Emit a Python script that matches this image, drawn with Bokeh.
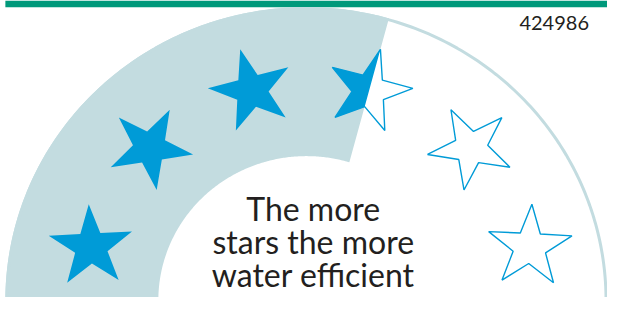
import numpy as np
from bokeh.plotting import figure
from bokeh.models import Range1d
from bokeh.embed import file_html
from bokeh.resources import INLINE
from bokeh.core.properties import value

# ---- data ----
star_count = 6
rating = 3.5
label_code = ["424986"]
slogan_lines = ["The more", "stars the more", "water efficient"]

# ---- geometry (reference pixel units, y downwards) ----
W, H = 623, 313
CX, CY = 314, 316          # centre of the band
R_OUT = 309
R_IN = 152
SCX, SCY = 318, 320        # centre of the star arc
R_STARS = 233
STAR_OUT = 45
STAR_IN = 17.5

GREEN = "#00997b"
PALE = "#c3dce0"
BLUE = "#009bd7"
INK = "#231f20"

p = figure(width=607, height=297, x_range=Range1d(0, W), y_range=Range1d(H, 0),
           output_backend="svg", toolbar_location=None, min_border=0,
           x_axis_type=None, y_axis_type=None)
p.grid.visible = False
p.outline_line_color = None
p.background_fill_color = "white"
p.border_fill_color = "white"


def band_xy(u, v):
    return CX + np.asarray(u, dtype=float), CY - np.asarray(v, dtype=float)


def arc_pts(r, a0, a1, n=200):
    a = np.radians(np.linspace(a0, a1, n))
    return r * np.cos(a), r * np.sin(a)


# green top bar
p.quad(left=5, right=W, top=0, bottom=7, fill_color=GREEN, line_color=None)

step = 180.0 / star_count
thetas = [180 - step / 2 - step * k for k in range(star_count)]


def star_centre(theta):
    # centre in band-relative math coords (y up)
    t = np.radians(theta)
    x = SCX + R_STARS * np.cos(t)
    y = SCY - R_STARS * np.sin(t)
    return np.array([x - CX, CY - y])


# split line through the part-filled star, along its axis
k_split = int(np.floor(rating))
split_theta = thetas[k_split] + step * (k_split + 0.5 - rating)
S = star_centre(split_theta)
d = np.array([np.cos(np.radians(split_theta)), np.sin(np.radians(split_theta))])


def hit(R):
    b = S @ d
    disc = b * b - S @ S + R * R
    return S + (-b + np.sqrt(disc)) * d


po, pi_ = hit(R_OUT), hit(R_IN)
a_out = np.degrees(np.arctan2(po[1], po[0]))
a_in = np.degrees(np.arctan2(pi_[1], pi_[0]))

uo, vo = arc_pts(R_OUT, 180, a_out)
ui, vi = arc_pts(R_IN, a_in, 180)
xs, ys = band_xy(np.concatenate([uo, ui]), np.concatenate([vo, vi]))
p.patch(xs, ys, fill_color=PALE, line_color=None)

# outer ring
u, v = arc_pts(R_OUT - 1.5, 0, 180)
x, y = band_xy(u, v)
p.line(x, y, line_color=PALE, line_width=3)


def star_uv(theta):
    c = star_centre(theta)
    pts = []
    for i in range(10):
        a = np.radians(theta + 36 * i)
        r = STAR_OUT if i % 2 == 0 else STAR_IN
        pts.append((c[0] + r * np.cos(a), c[1] + r * np.sin(a)))
    return c, pts


def clip_half(pts, centre, theta):
    n = (-np.sin(np.radians(theta)), np.cos(np.radians(theta)))

    def side(pt):
        return (pt[0] - centre[0]) * n[0] + (pt[1] - centre[1]) * n[1]
    out = []
    for i in range(len(pts)):
        a, b = pts[i], pts[(i + 1) % len(pts)]
        sa, sb = side(a), side(b)
        if sa >= 0:
            out.append(a)
        if (sa >= 0) != (sb >= 0):
            t = sa / (sa - sb)
            out.append((a[0] + t * (b[0] - a[0]), a[1] + t * (b[1] - a[1])))
    return out


for k, theta in enumerate(thetas):
    centre, pts = star_uv(theta)
    x, y = band_xy([q[0] for q in pts], [q[1] for q in pts])
    if k + 1 <= rating:
        p.patch(x, y, fill_color=BLUE, line_color=None)
    else:
        p.patch(x, y, fill_color="white", line_color=BLUE, line_width=1.4)
        if k < rating:
            half = clip_half(pts, centre, theta)
            x2, y2 = band_xy([q[0] for q in half], [q[1] for q in half])
            p.patch(x2, y2, fill_color=BLUE, line_color=None)

# slogan
p.text(x=[321] * len(slogan_lines), y=[219, 254, 289], text=slogan_lines,
       text_align="center", text_baseline="alphabetic",
       text_font=value("Lato"), text_font_size="32px", text_color=INK)

# label code
p.text(x=[604], y=[24], text=label_code, text_align="right",
       text_baseline="alphabetic", text_font=value("Lato"),
       text_font_size="20px", text_color=INK)

open("out.html", "w").write(file_html(p, INLINE))
